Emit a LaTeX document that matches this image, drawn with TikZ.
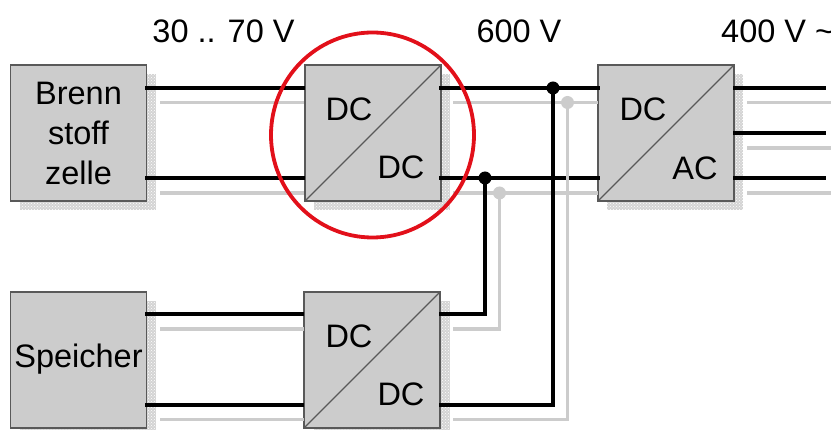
\documentclass[tikz,border=0pt]{standalone}
\usepackage{fontspec}
\setmainfont{Liberation Sans}
\usetikzlibrary{patterns,shapes.geometric}
\tikzset{
  block/.style={draw=black!65,line width=1.2pt,fill=boxgray,minimum size=136pt,inner sep=0pt,outer sep=0pt,align=center,font=\fontsize{32.5}{40}\selectfont},
  shade box/.style={minimum size=136pt,inner sep=0pt,outer sep=0pt,fill=shadegray,postaction={pattern=crosshatch dots,pattern color=white}},
  lbl/.style={inner sep=0pt,anchor=base,font=\fontsize{32.5}{38}\selectfont},
  blackline/.style={line width=3.3pt,black,line join=miter},
  grayline/.style={line width=3.3pt,boxgray,line join=miter},
  diag/.style={line width=1.1pt,black!65},
  jblack/.style={circle,fill=black,inner sep=0pt,minimum size=13pt},
  jgray/.style={circle,fill=boxgray,inner sep=0pt,minimum size=13pt},
}
\definecolor{boxgray}{HTML}{CCCCCC}
\definecolor{shadegray}{HTML}{D4D4D4}
\definecolor{ringred}{HTML}{E2101A}
\begin{document}
\begin{tikzpicture}[x=1pt,y=-1pt]
\useasboundingbox (0,0) rectangle (831,430);
\clip (0,0) rectangle (831,430);
% shadows
\node[shade box] (s1) at (88,142) {};
\node[shade box] (s2) at (382,142) {};
\node[shade box] (s3) at (675,142) {};
\node[shade box] (s4) at (88,369) {};
\node[shade box] (s5) at (382,369) {};
% blocks
\node[block] (fc) at (78.5,133) {Brenn\\stoff\\zelle};
\node[block] (c1) at (373,133) {};
\node[block] (inv) at (666,133) {};
\node[block] (sp) at (78.5,360) {};
\node[block] (c2) at (372,360) {};
\draw[diag] (c1.south west) -- (c1.north east);
\draw[diag] (inv.south west) -- (inv.north east);
\draw[diag] (c2.south west) -- (c2.north east);
% labels
\node[lbl] (t1) at (223.5,43) {30 .. 70 V};
\node[lbl] (t2) at (519,43) {600 V};
\node[lbl,anchor=base west] (t3) at (721,43) {400 V \char`~};
\node[lbl] (d0) at (78.5,368) {Speicher};
\node[lbl] (d1) at (349,120.5) {DC};
\node[lbl] (d2) at (401,178.5) {DC};
\node[lbl] (d3) at (643,120.5) {DC};
\node[lbl] (d4) at (695,179.5) {AC};
\node[lbl] (d5) at (349,347.5) {DC};
\node[lbl] (d6) at (401,405.5) {DC};
% connector points
\coordinate (a1) at (145,88);   \coordinate (b1) at (305,88);
\coordinate (a2) at (160,102.5);\coordinate (b2) at (304,102.5);
\coordinate (a3) at (145,178);  \coordinate (b3) at (305,178);
\coordinate (a4) at (160,193);  \coordinate (b4) at (304,193);
\coordinate (e1) at (145,314);  \coordinate (f1) at (304,314);
\coordinate (e2) at (160,329);  \coordinate (f2) at (304,329);
\coordinate (e3) at (145,405);  \coordinate (f3) at (304,405);
\coordinate (e4) at (160,419.5);\coordinate (f4) at (304,419.5);
\coordinate (g1) at (439,88);   \coordinate (h1) at (600,88);
\coordinate (g2) at (453,102.5);\coordinate (h2) at (598,102.5);
\coordinate (g3) at (439,178);  \coordinate (h3) at (600,178);
\coordinate (g4) at (453,193);  \coordinate (h4) at (598,193);
\coordinate (gap1) at (565.8,178); \coordinate (gap2) at (569,178);
\coordinate (k1) at (439,314);  \coordinate (k2) at (453,329);
\coordinate (k3) at (439,405);  \coordinate (k4) at (453,419.5);
\coordinate (m1) at (733,88);   \coordinate (n1) at (826,88);
\coordinate (m2) at (747,102.5);\coordinate (n2) at (835,102.5);
\coordinate (m3) at (733,133);  \coordinate (n3) at (826,133);
\coordinate (m4) at (747,148);  \coordinate (n4) at (835,148);
\coordinate (m5) at (733,178);  \coordinate (n5) at (826,178);
\coordinate (m6) at (747,193);  \coordinate (n6) at (835,193);
\node[jblack] (j1) at (553,88) {};
\node[jgray] (j2) at (567.5,102.5) {};
\node[jblack] (j3) at (485,178) {};
\node[jgray] (j4) at (499.5,193) {};
% gray wires
\foreach \p/\q in {a2/b2,a4/b4,e2/f2,e4/f4,g2/h2,g4/h4,m2/n2,m4/n4,m6/n6}
  \draw[grayline] (\p) -- (\q);
\draw[grayline] (k2) -| (j4.center);
\draw[grayline] (k4) -| (j2.center);
% black wires
\foreach \p/\q in {a1/b1,a3/b3,e1/f1,e3/f3,g1/h1,g3/gap1,gap2/h3,m1/n1,m3/n3,m5/n5}
  \draw[blackline] (\p) -- (\q);
\draw[blackline] (k1) -| (j3.center);
\draw[blackline] (k3) -| (j1.center);
% highlight
\node[draw=ringred,line width=3.8pt,ellipse,minimum width=203pt,minimum height=205pt,inner sep=0pt] (ring) at (372.5,135) {};
\end{tikzpicture}
\end{document}
